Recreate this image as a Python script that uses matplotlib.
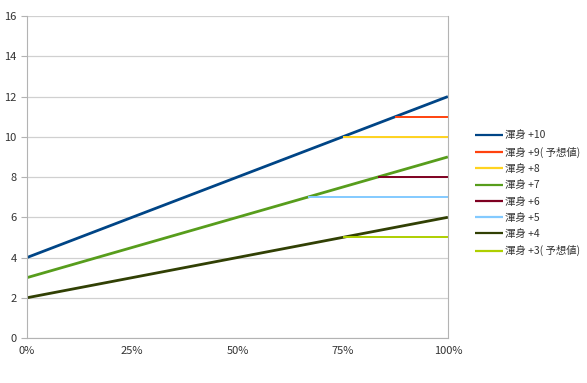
import matplotlib
matplotlib.use("Agg")
import matplotlib.pyplot as plt
from matplotlib.ticker import FuncFormatter

plt.rcParams['font.family'] = ['Noto Sans CJK JP', 'DejaVu Sans']

labels = ["渾身 +10", "渾身 +9( 予想値)", "渾身 +8", "渾身 +7", "渾身 +6",
          "渾身 +5", "渾身 +4", "渾身 +3( 予想値)"]
colors = ["#004586", "#ff420e", "#ffd320", "#579d1c", "#7e0021",
          "#83caff", "#314004", "#aecf00"]
x_vals = [
    [0.0, 1.0],
    [0.875, 1.0],
    [0.75, 1.0],
    [0.0, 1.0],
    [0.8333, 1.0],
    [0.6667, 1.0],
    [0.0, 1.0],
    [0.75, 1.0],
]
y_vals = [
    [4, 12],
    [11, 11],
    [10, 10],
    [3, 9],
    [8, 8],
    [7, 7],
    [2, 6],
    [5, 5],
]
y_ticks = [0, 2, 4, 6, 8, 10, 12, 14, 16]
x_ticks = [0, 0.25, 0.5, 0.75, 1.0]

fig = plt.figure(figsize=(5.87, 3.83), dpi=100)
ax = fig.add_axes([0.046, 0.1175, 0.717, 0.8405])

for xs, ys, c, lab in zip(x_vals, y_vals, colors, labels):
    lw = 2.0 if xs[0] == 0 else 1.4
    ax.plot(xs, ys, color=c, lw=lw, label=lab, solid_capstyle='butt')

ax.set_xlim(0, 1)
ax.set_ylim(0, 16)
ax.set_yticks(y_ticks)
ax.set_xticks(x_ticks)
ax.xaxis.set_major_formatter(FuncFormatter(lambda v, p: f"{int(round(v*100))}%"))
ax.grid(axis='y', color='#d0d0d0', lw=0.9)
ax.set_axisbelow(True)
for s in ['top']:
    ax.spines[s].set_visible(False)
for s in ['left', 'bottom', 'right']:
    ax.spines[s].set_color('#b3b3b3')
ax.tick_params(axis='y', colors='#b3b3b3', labelcolor='#333333', length=4, labelsize=8)
ax.tick_params(axis='x', colors='#b3b3b3', labelcolor='#333333', length=0, labelsize=8, pad=6)

leg = fig.legend(loc='center left', bbox_to_anchor=(0.794, 0.495), frameon=False,
                 fontsize=7.5, handlelength=2.6, handletextpad=0.25, labelspacing=0.6)
for line in leg.get_lines():
    line.set_linewidth(1.6)
for t in leg.get_texts():
    t.set_color('#333333')

fig.savefig("out.png", dpi=100)
